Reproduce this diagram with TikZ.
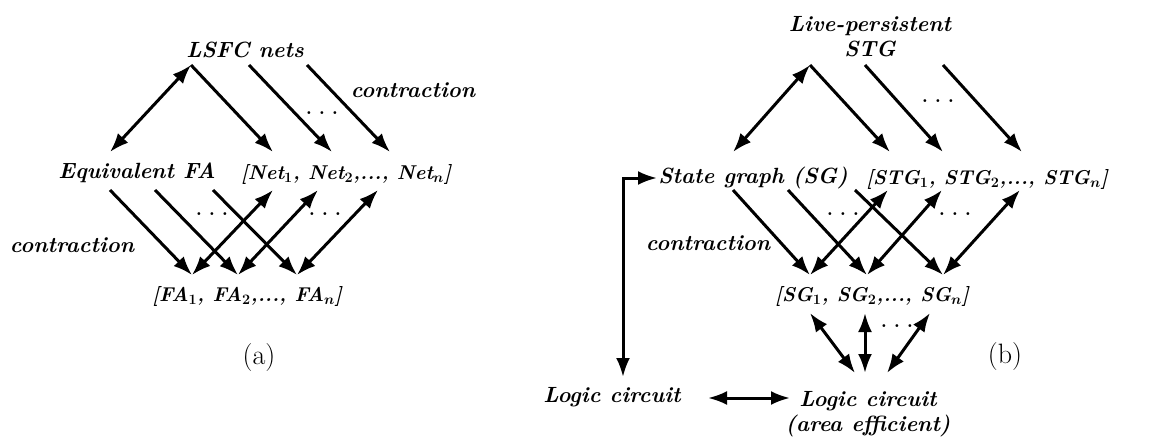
\documentclass[tikz,border=0pt]{standalone}
\usepackage{fontspec}
\usetikzlibrary{arrows.meta}
\begin{document}
\begin{tikzpicture}[x=1pt,y=-1pt]
\tikzset{
 lbl/.style={font=\fontsize{22}{25}\selectfont\bfseries\itshape\boldmath, inner sep=0pt, align=center},
 lst/.style={font=\fontsize{20}{24}\selectfont\bfseries\itshape\boldmath, inner sep=0pt},
 dotsl/.style={font=\fontsize{20}{24}\selectfont\bfseries, inner sep=0pt},
 captxt/.style={font=\fontsize{28}{32}\selectfont, inner sep=0pt},
 arr/.style={line width=3pt, -{Latex[length=19pt,width=14pt]}},
 darr/.style={line width=3pt, {Latex[length=19pt,width=14pt]}-{Latex[length=19pt,width=14pt]}},
}
\useasboundingbox (0,0) rectangle (1171,444);
% ---------- (a) ----------
\node[lbl] (lsfc) at (245,50) {LSFC nets};
\node[lbl] (eqfa) at (137,173) {Equivalent FA};
\node[lst] (nets) at (346,174) {[Net$_1$, Net$_2$,..., Net$_n$]};
\node[lst] (fas) at (247,296) {[FA$_1$, FA$_2$,..., FA$_n$]};
\node[lbl] (ca1) at (413,90) {contraction};
\node[lbl] (ca2) at (72,245) {contraction};
\node[dotsl] (da1) at (322,113) {.\,\,.\,\,.};
\node[dotsl] (da2) at (212,214) {.\,\,.\,\,.};
\node[dotsl] (da3) at (325,214) {.\,\,.\,\,.};
\node[captxt] (capa) at (259,358) {(a)};
\coordinate (a0) at (191,65);
\coordinate (a1) at (249,65);
\coordinate (a2) at (307,65);
\coordinate (eqt) at (110,152);
\coordinate (n1t) at (273,152);
\coordinate (n2t) at (332,152);
\coordinate (nnt) at (390,152);
\coordinate (e1) at (110,190);
\coordinate (e2) at (155,190);
\coordinate (e3) at (213,190);
\coordinate (f1) at (192,275);
\coordinate (f2) at (238,275);
\coordinate (fn) at (297,275);
\coordinate (n1b) at (273,190);
\coordinate (n2b) at (318,190);
\coordinate (nnb) at (378,190);
\draw[darr] (a0) -- (eqt);
\draw[arr] (a0) -- (n1t);
\draw[arr] (a1) -- (n2t);
\draw[arr] (a2) -- (nnt);
\draw[arr] (e1) -- (f1);
\draw[arr] (e2) -- (f2);
\draw[arr] (e3) -- (fn);
\draw[darr] (f1) -- (n1b);
\draw[darr] (f2) -- (n2b);
\draw[darr] (fn) -- (nnb);
% ---------- (b) ----------
\node[lbl] (lp) at (870,37) {Live-persistent\\STG};
\node[lbl] (sg) at (753,178) {State graph (SG)};
\node[lst] (stgs) at (987,179) {[STG$_1$, STG$_2$,..., STG$_n$]};
\node[lst] (sgs) at (872,296) {[SG$_1$, SG$_2$,..., SG$_n$]};
\node[lbl] (cb) at (708,243) {contraction};
\node[lbl] (lc1) at (612,397) {Logic circuit};
\node[lbl] (lc2) at (868,414) {Logic circuit\\(area efficient)};
\node[dotsl] (db1) at (938,101) {.\,\,.\,\,.};
\node[dotsl] (db2) at (843,214) {.\,\,.\,\,.};
\node[dotsl] (db3) at (955,214) {.\,\,.\,\,.};
\node[dotsl] (db4) at (897,326) {.\,\,.\,\,.};
\node[captxt] (capb) at (1005,357) {(b)};
\coordinate (b0) at (810,65);
\coordinate (b1) at (865,65);
\coordinate (b2) at (943,65);
\coordinate (sgt) at (733,152);
\coordinate (t1t) at (890,152);
\coordinate (t2t) at (943,152);
\coordinate (tnt) at (1022,152);
\coordinate (s1) at (733,190);
\coordinate (s2) at (788,190);
\coordinate (s3) at (855,190);
\coordinate (g1) at (810,275);
\coordinate (g2) at (867,275);
\coordinate (gn) at (943,275);
\coordinate (t1b) at (888,190);
\coordinate (t2b) at (942,190);
\coordinate (tnb) at (1020,190);
\coordinate (h1) at (810,313);
\coordinate (h2) at (865,313);
\coordinate (h3) at (930,313);
\coordinate (l1) at (855,373);
\coordinate (l2) at (865,373);
\coordinate (l3) at (887,373);
\coordinate (sgl) at (657,178);
\coordinate (lct) at (623,377);
\coordinate (lcr) at (708,398);
\coordinate (lcl) at (790,398);
\draw[darr] (b0) -- (sgt);
\draw[arr] (b0) -- (t1t);
\draw[arr] (b1) -- (t2t);
\draw[arr] (b2) -- (tnt);
\draw[arr] (s1) -- (g1);
\draw[arr] (s2) -- (g2);
\draw[arr] (s3) -- (gn);
\draw[darr] (g1) -- (t1b);
\draw[darr] (g2) -- (t2b);
\draw[darr] (gn) -- (tnb);
\draw[darr] (h1) -- (l1);
\draw[darr] (h2) -- (l2);
\draw[darr] (h3) -- (l3);
\draw[darr] (lcr) -- (lcl);
\draw[darr] (sgl) -- (623,178) -- (lct);
\end{tikzpicture}
\end{document}
